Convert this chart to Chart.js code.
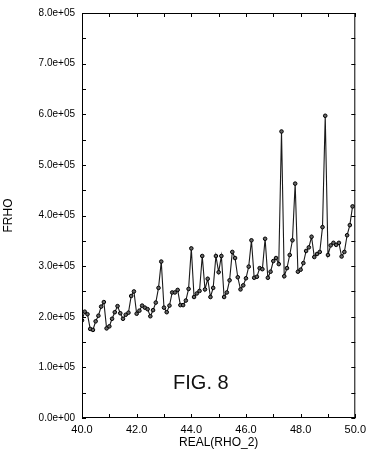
<!DOCTYPE html>
<html>
<head>
<meta charset="utf-8">
<script src="https://cdn.jsdelivr.net/npm/chart.js@4/dist/chart.umd.min.js"></script>
<style>
  html, body { margin: 0; padding: 0; background: #fff; }
  #wrap { position: relative; width: 371px; height: 454px; }
</style>
</head>
<body>
<div id="wrap"><canvas id="chart"></canvas></div>
<script>
// REAL(RHO_2) sample positions
const rhoValues = [
  40.0, 40.1, 40.2, 40.3, 40.4, 40.5, 40.6, 40.7, 40.8, 40.9,
  41.0, 41.1, 41.2, 41.3, 41.4, 41.5, 41.6, 41.7, 41.8, 41.9,
  42.0, 42.1, 42.2, 42.3, 42.4, 42.5, 42.6, 42.7, 42.8, 42.9,
  43.0, 43.1, 43.2, 43.3, 43.4, 43.5, 43.6, 43.7, 43.8, 43.9,
  44.0, 44.1, 44.2, 44.3, 44.4, 44.5, 44.6, 44.7, 44.8, 44.9,
  45.0, 45.1, 45.2, 45.3, 45.4, 45.5, 45.6, 45.7, 45.8, 45.9,
  46.0, 46.1, 46.2, 46.3, 46.4, 46.5, 46.6, 46.7, 46.8, 46.9,
  47.0, 47.1, 47.2, 47.3, 47.4, 47.5, 47.6, 47.7, 47.8, 47.9,
  48.0, 48.1, 48.2, 48.3, 48.4, 48.5, 48.6, 48.7, 48.8, 48.9,
  49.0, 49.1, 49.2, 49.3, 49.4, 49.5, 49.6, 49.7, 49.8, 49.9
];

// FRHO values (x 1e5)
const frhoValues = [
  1.93, 2.10, 2.05, 1.76, 1.74, 1.91, 2.02, 2.20, 2.29, 1.77,
  1.81, 1.96, 2.09, 2.21, 2.07, 1.96, 2.04, 2.08, 2.41, 2.50,
  2.06, 2.12, 2.22, 2.18, 2.15, 2.01, 2.13, 2.28, 2.57, 3.09,
  2.18, 2.09, 2.22, 2.48, 2.48, 2.53, 2.23, 2.23, 2.32, 2.55,
  3.35, 2.39, 2.46, 2.51, 3.20, 2.54, 2.75, 2.39, 2.57, 3.20,
  2.88, 3.20, 2.39, 2.48, 2.72, 3.28, 3.16, 2.78, 2.54, 2.62,
  2.76, 2.99, 3.51, 2.77, 2.79, 2.96, 2.94, 3.54, 2.77, 2.89,
  3.10, 3.16, 3.04, 5.66, 2.80, 2.96, 3.22, 3.51, 4.63, 2.89,
  2.93, 3.06, 3.30, 3.37, 3.58, 3.18, 3.24, 3.28, 3.77, 5.97,
  3.22, 3.41, 3.46, 3.42, 3.46, 3.19, 3.28, 3.61, 3.81, 4.18
];

const xMin = 40, xMax = 50, xStep = 2, xMinorStep = 1;
const yMin = 0, yMax = 8e5, yStep = 1e5, yMinorStep = 0.5e5;
const figLabel = 'FIG. 8';

const FONT = '"Liberation Sans", Arial, Helvetica, sans-serif';

function fmtExp(v) {
  // 8.0e+05 style
  return Number(v).toExponential(1).replace(/e([+-])(\d)$/, 'e$10$2');
}

// frame with inward ticks + the figure tag
const framePlugin = {
  id: 'frame',
  afterDatasetsDraw(chart) {
    const { ctx, chartArea: a, scales } = chart;
    const len = 4;
    ctx.save();
    ctx.strokeStyle = '#000';
    ctx.lineWidth = 1;
    ctx.strokeRect(a.left + 0.5, a.top + 0.5, a.right - a.left - 1, a.bottom - a.top - 1);
    ctx.beginPath();
    for (let v = yMin; v <= yMax; v += yMinorStep) {
      const y = Math.round(scales.y.getPixelForValue(v)) + 0.5;
      ctx.moveTo(a.left, y); ctx.lineTo(a.left + len, y);
      ctx.moveTo(a.right, y); ctx.lineTo(a.right - len, y);
    }
    for (let v = xMin; v <= xMax; v += xMinorStep) {
      const x = Math.round(scales.x.getPixelForValue(v)) + 0.5;
      ctx.moveTo(x, a.bottom); ctx.lineTo(x, a.bottom - len);
      ctx.moveTo(x, a.top); ctx.lineTo(x, a.top + len);
    }
    ctx.stroke();

    ctx.fillStyle = '#111';
    ctx.font = '20px ' + FONT;
    ctx.textAlign = 'center';
    ctx.textBaseline = 'middle';
    ctx.fillText(figLabel, scales.x.getPixelForValue(44.35), scales.y.getPixelForValue(0.68e5));
    ctx.restore();
  }
};

const points = rhoValues.map((x, i) => ({ x: x, y: frhoValues[i] * 1e5 }));

new Chart(document.getElementById('chart'), {
  type: 'line',
  data: {
    datasets: [{
      data: points,
      borderColor: '#1a1a1a',
      borderWidth: 1.1,
      pointRadius: 1.8,
      pointBackgroundColor: '#666',
      pointBorderColor: '#000',
      pointBorderWidth: 1,
      tension: 0,
      fill: false
    }]
  },
  options: {
    responsive: true,
    maintainAspectRatio: false,
    animation: false,
    layout: { padding: { top: 7, right: 14, bottom: 0, left: 0 } },
    plugins: {
      legend: { display: false },
      tooltip: { enabled: false }
    },
    scales: {
      x: {
        type: 'linear',
        min: xMin,
        max: xMax,
        afterFit(scale) { scale.height = 36; },
        grid: { display: false, drawTicks: false },
        border: { display: false },
        ticks: {
          stepSize: xStep,
          padding: 5,
          color: '#000',
          maxRotation: 0,
          font: { family: FONT, size: 11 },
          callback: v => Number(v).toFixed(1)
        },
        title: {
          display: true,
          text: 'REAL(RHO_2)',
          color: '#000',
          font: { family: FONT, size: 12 },
          padding: { top: 0, bottom: 4 }
        }
      },
      y: {
        min: yMin,
        max: yMax,
        afterFit(scale) { scale.width = 82; },
        grid: { display: false, drawTicks: false },
        border: { display: false },
        ticks: {
          stepSize: yStep,
          padding: 7,
          color: '#000',
          font: { family: FONT, size: 10 },
          callback: v => fmtExp(v)
        },
        title: {
          display: true,
          text: 'FRHO',
          color: '#000',
          font: { family: FONT, size: 12 },
          padding: { top: 1, bottom: 0 }
        }
      }
    }
  },
  plugins: [framePlugin]
});
</script>
</body>
</html>
